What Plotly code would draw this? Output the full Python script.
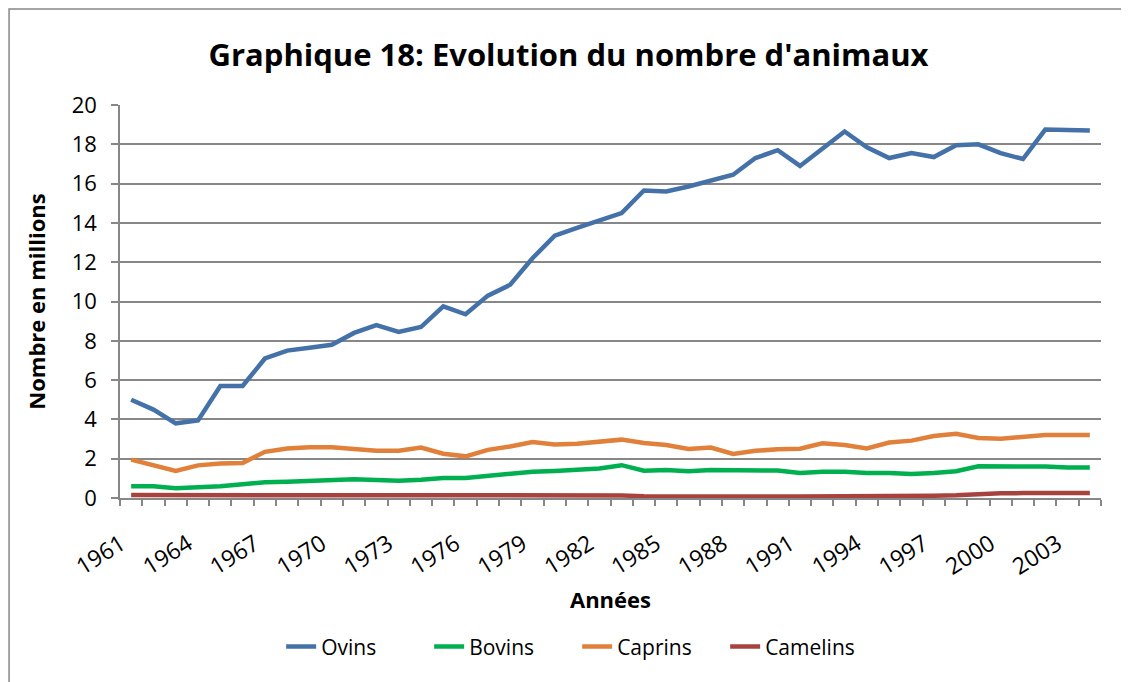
import plotly.graph_objects as go

# years 1961-2004
years = list(range(1961, 2005))
tick_years = list(range(1961, 2004, 3))

ovins = [5.0, 4.5, 3.8, 3.95, 5.7, 5.7, 7.1, 7.5, 7.65, 7.8,
         8.4, 8.8, 8.45, 8.7, 9.75, 9.35, 10.3, 10.85, 12.2, 13.35,
         13.75, 14.1, 14.5, 15.65, 15.6, 15.85, 16.15, 16.45, 17.3, 17.7,
         16.9, 17.75, 18.65, 17.85, 17.3, 17.55, 17.35, 17.95, 18.0, 17.55,
         17.25, 18.75, 18.7, 18.7]
bovins = [0.6, 0.6, 0.5, 0.53, 0.6, 0.7, 0.8, 0.83, 0.86, 0.9,
          0.95, 0.92, 0.88, 0.93, 1.02, 1.02, 1.14, 1.24, 1.34, 1.38,
          1.42, 1.5, 1.67, 1.39, 1.42, 1.36, 1.42, 1.42, 1.4, 1.4,
          1.27, 1.34, 1.34, 1.27, 1.27, 1.22, 1.27, 1.36, 1.61, 1.61,
          1.65, 1.6, 1.55, 1.55]
caprins = [1.95, 1.65, 1.38, 1.66, 1.75, 1.78, 2.35, 2.52, 2.58, 2.58,
           2.5, 2.41, 2.41, 2.57, 2.25, 2.12, 2.45, 2.62, 2.85, 2.72,
           2.76, 2.87, 2.97, 2.8, 2.7, 2.49, 2.57, 2.24, 2.4, 2.48,
           2.51, 2.78, 2.7, 2.52, 2.82, 2.92, 3.15, 3.27, 3.05, 3.02,
           3.12, 3.2, 3.2, 3.2]
camelins = [0.15, 0.15, 0.15, 0.15, 0.15, 0.15, 0.15, 0.15, 0.15, 0.15,
            0.15, 0.14, 0.14, 0.14, 0.14, 0.14, 0.14, 0.14, 0.14, 0.14,
            0.14, 0.14, 0.13, 0.09, 0.08, 0.08, 0.08, 0.08, 0.08, 0.08,
            0.08, 0.08, 0.08, 0.08, 0.08, 0.1, 0.12, 0.14, 0.2, 0.24,
            0.25, 0.25, 0.25, 0.25]

series = [
    ("Ovins", ovins, "#4472A8"),
    ("Bovins", bovins, "#00B050"),
    ("Caprins", caprins, "#E0803A"),
    ("Camelins", camelins, "#A8423F"),
]

FONT = "Open Sans, Calibri, sans-serif"
GRID = "#878787"

fig = go.Figure()
for name, vals, color in series:
    fig.add_trace(go.Scatter(
        x=years, y=vals, name=name, mode="lines",
        line=dict(color=color, width=4.5)
    ))

# page body has an 8px margin, so the figure is drawn 8px smaller
fig.update_layout(
    width=1121, height=674,
    margin=dict(l=112, r=28, t=97, b=184, autoexpand=False),
    paper_bgcolor="white",
    plot_bgcolor="white",
    font=dict(family=FONT, size=20, color="black"),
    title=dict(
        text="<b>Graphique 18: Evolution du nombre d'animaux</b>",
        x=0.5, xanchor="center", y=0.930, yref="container", yanchor="middle",
        font=dict(family=FONT, size=31, color="black")
    ),
    showlegend=True,
    legend=dict(
        orientation="h", x=0.466, xanchor="center", y=-0.379, yanchor="middle",
        font=dict(size=21), entrywidth=103
    ),
    xaxis=dict(
        range=[1960.5, 2004.5],
        tickvals=tick_years,
        ticktext=[str(y) for y in tick_years],
        tickangle=-32,
        tickfont=dict(size=23),
        ticklabelstandoff=22, ticklabelshift=-10,
        ticks="",
        showgrid=False,
        showline=True, linecolor=GRID, linewidth=1.5,
        minor=dict(ticks="outside", tick0=1960.5, dtick=1, ticklen=6,
                   tickcolor=GRID, tickwidth=1.5, showgrid=False),
        title=dict(text="<b>Années</b>", font=dict(size=22), standoff=12),
        zeroline=False,
        automargin=False,
    ),
    yaxis=dict(
        range=[0, 20], dtick=2,
        ticks="outside", ticklen=7, tickcolor=GRID, tickwidth=1.5,
        tickfont=dict(size=22), ticklabelstandoff=10,
        showgrid=True, gridcolor=GRID, gridwidth=1.5,
        showline=True, linecolor=GRID, linewidth=1.5,
        zeroline=False,
        title=dict(text="<b>Nombre en millions</b>", font=dict(size=22), standoff=20),
        automargin=False,
    ),
)

# outer chart border (kept just inside the figure, right side runs off-page)
fig.add_shape(type="rect", xref="paper", yref="paper",
              x0=-0.1131, x1=1.1, y0=-0.5, y1=1.2443,
              line=dict(color=GRID, width=1.5), layer="below")

fig.write_html("out.html")
